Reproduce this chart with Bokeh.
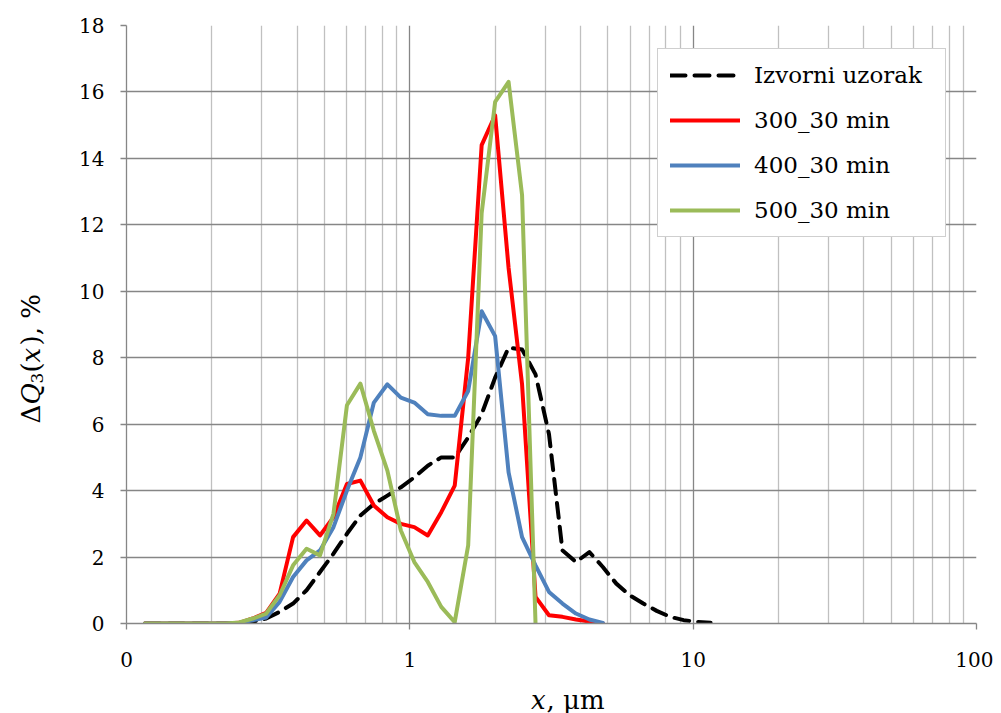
import math
from bokeh.plotting import figure
from bokeh.layouts import row, column
from bokeh.models import Range1d, FixedTicker, Legend, LegendItem, Label
from bokeh.embed import file_html
from bokeh.resources import INLINE

# ---- data ----
x_um = [0.1162, 0.1297, 0.1447, 0.1614, 0.1800, 0.2009, 0.2241, 0.2500, 0.2789, 0.3111,
        0.3471, 0.3872, 0.4320, 0.4819, 0.5376, 0.5998, 0.6691, 0.7465, 0.8332, 0.9297,
        1.0372, 1.1571, 1.2909, 1.4402, 1.6068, 1.7926, 2.0000, 2.2313, 2.4893, 2.7772,
        3.0984, 3.4567, 3.8564, 4.3024, 4.8000, 5.3551, 5.9744, 6.6653, 7.4361, 8.2960,
        9.2554, 10.326, 11.520]

izvorni = [0, 0, 0, 0, 0, 0, 0, 0,
           0.05, 0.15, 0.35, 0.6, 1.0, 1.55, 2.1, 2.7, 3.25, 3.6,
           3.85, 4.1, 4.4, 4.75, 5.0, 5.0, 5.6, 6.3, 7.4, 8.3,
           8.25, 7.5, 5.7, 2.2, 1.85, 2.15, 1.7, 1.2, 0.85, 0.6,
           0.38, 0.2, 0.1, 0.05, 0.02]

s300 = [0, 0, 0, 0, 0, 0, 0,
        0.02, 0.15, 0.32, 0.9, 2.6, 3.1, 2.65, 3.2, 4.2, 4.3,
        3.55, 3.2, 3.0, 2.9, 2.65, 3.35, 4.15, 8.0, 14.4, 15.3,
        10.7, 7.2, 0.8, 0.25, 0.2, 0.12, 0.06, 0.0]

s400 = [0, 0, 0, 0, 0, 0, 0,
        0.02, 0.1, 0.18, 0.65, 1.4, 1.9, 2.2, 2.9, 4.0, 5.0,
        6.65, 7.2, 6.8, 6.65, 6.3, 6.25, 6.25, 7.0, 9.4, 8.65,
        4.55, 2.6, 1.75, 0.95, 0.6, 0.3, 0.12, 0.02]

s500 = [0, 0, 0, 0, 0, 0, 0,
        0.03, 0.15, 0.3, 0.85, 1.75, 2.25, 2.05, 3.3, 6.57, 7.22,
        5.8, 4.6, 2.8, 1.85, 1.25, 0.5, 0.04, 2.35, 12.35, 15.7,
        16.3, 12.9, 0.0]

series_names = ["Izvorni uzorak", "300_30 min", "400_30 min", "500_30 min"]

x_major_ticks = [0.1, 1, 10, 100]
x_tick_labels = {0.1: "0", 1: "1", 10: "10", 100: "100"}
x_minor_ticks = [0.2, 0.3, 0.4, 0.5, 0.6, 0.7, 0.8, 0.9,
                 2, 3, 4, 5, 6, 7, 8, 9,
                 20, 30, 40, 50, 60, 70, 80, 90]
y_ticks = [0, 2, 4, 6, 8, 10, 12, 14, 16, 18]

FONT = "DejaVu Serif"
GRID = "#868686"
MINOR = "#c0c0c0"

LEFT_W = 62      # width of the strip holding the y title
BOTTOM_H = 40    # height of the strip holding the x title
MAIN_W = 931
MAIN_H = 673

p = figure(width=MAIN_W, height=MAIN_H, x_axis_type="log",
           x_range=Range1d(0.1, 100), y_range=Range1d(0, 18),
           output_backend="svg", toolbar_location=None,
           min_border_left=64, min_border_right=17,
           min_border_top=25, min_border_bottom=50)
p.outline_line_color = None
p.background_fill_color = "white"
p.border_fill_color = "white"

# axes
xax = p.xaxis[0]
xax.ticker = FixedTicker(ticks=x_major_ticks, minor_ticks=x_minor_ticks)
xax.major_label_overrides = x_tick_labels
yax = p.yaxis[0]
yax.ticker = FixedTicker(ticks=y_ticks)
for ax in (xax, yax):
    ax.axis_line_color = GRID
    ax.axis_line_width = 1.3
    ax.major_tick_line_color = GRID
    ax.major_tick_line_width = 1.3
    ax.major_tick_out = 6
    ax.major_tick_in = 0
    ax.minor_tick_out = 0
    ax.minor_tick_in = 0
    ax.major_label_text_font = FONT
    ax.major_label_text_font_size = "20px"
    ax.major_label_text_color = "black"
xax.major_label_standoff = 22
yax.major_label_standoff = 16

# grids
p.xgrid.grid_line_color = GRID
p.xgrid.grid_line_width = 1.3
p.xgrid.minor_grid_line_color = MINOR
p.xgrid.minor_grid_line_width = 1.3
p.ygrid.grid_line_color = GRID
p.ygrid.grid_line_width = 1.3

# lines
r0 = p.line(x_um[:len(izvorni)], izvorni, line_color="black", line_width=4,
            line_dash="15 9", line_cap="round", line_join="round")
r1 = p.line(x_um[:len(s300)], s300, line_color="#FF0000", line_width=4,
            line_join="round", line_cap="round")
r2 = p.line(x_um[:len(s400)], s400, line_color="#4F81BD", line_width=4,
            line_join="round", line_cap="round")
r3 = p.line(x_um[:len(s500)], s500, line_color="#9BBB59", line_width=4,
            line_join="round", line_cap="round")

legend = Legend(items=[LegendItem(label=series_names[0], renderers=[r0]),
                       LegendItem(label=series_names[1], renderers=[r1]),
                       LegendItem(label=series_names[2], renderers=[r2]),
                       LegendItem(label=series_names[3], renderers=[r3])],
                location=(531, 386))
legend.label_text_font = FONT
legend.label_text_font_size = "23px"
legend.label_text_color = "black"
legend.glyph_width = 70
legend.glyph_height = 28
legend.spacing = 17
legend.padding = 12
legend.margin = 0
legend.label_standoff = 14
legend.label_width = 179
legend.border_line_color = "#a0a0a0"
legend.border_line_width = 1.3
legend.background_fill_color = "white"
legend.background_fill_alpha = 1.0
p.add_layout(legend)


def blank(w, h):
    f = figure(width=w, height=h, x_range=Range1d(0, w), y_range=Range1d(0, h),
               output_backend="svg", toolbar_location=None,
               x_axis_location=None, y_axis_location=None,
               min_border_left=0, min_border_right=0,
               min_border_top=0, min_border_bottom=0)
    f.grid.visible = False
    f.outline_line_color = None
    f.background_fill_color = "white"
    f.border_fill_color = "white"
    return f


# y title strip: ΔQ3(x), %  (rotated, built from pieces)
total_h = MAIN_H + BOTTOM_H
ly = blank(LEFT_W, total_h)
base_x = 30
start_y = total_h - 423
pieces = [("Δ", 0, "normal", "26px", 0),
          ("Q", 19, "italic", "26px", 0),
          ("3", 40, "normal", "17px", 6),
          ("(", 51, "normal", "26px", 0),
          ("x", 61, "italic", "26px", 0),
          ("), %", 78, "normal", "26px", 0)]
for txt, off, style, size, dx in pieces:
    ly.add_layout(Label(x=base_x + dx, y=start_y + off, text=txt,
                        angle=math.pi / 2, text_font=FONT, text_font_size=size,
                        text_font_style=style, text_align="left",
                        text_baseline="alphabetic", text_color="black"))

# x title strip: italic x + ", μm"
bx = blank(MAIN_W, BOTTOM_H)
bx.add_layout(Label(x=443, y=14, text="x",
                    text_font=FONT, text_font_size="26px", text_font_style="italic",
                    text_align="left", text_baseline="alphabetic", text_color="black"))
bx.add_layout(Label(x=460, y=14, text=", μm",
                    text_font=FONT, text_font_size="26px",
                    text_align="left", text_baseline="alphabetic", text_color="black"))

layout = row(ly, column(p, bx, spacing=0), spacing=0)
open("out.html", "w").write(file_html(layout, INLINE))
